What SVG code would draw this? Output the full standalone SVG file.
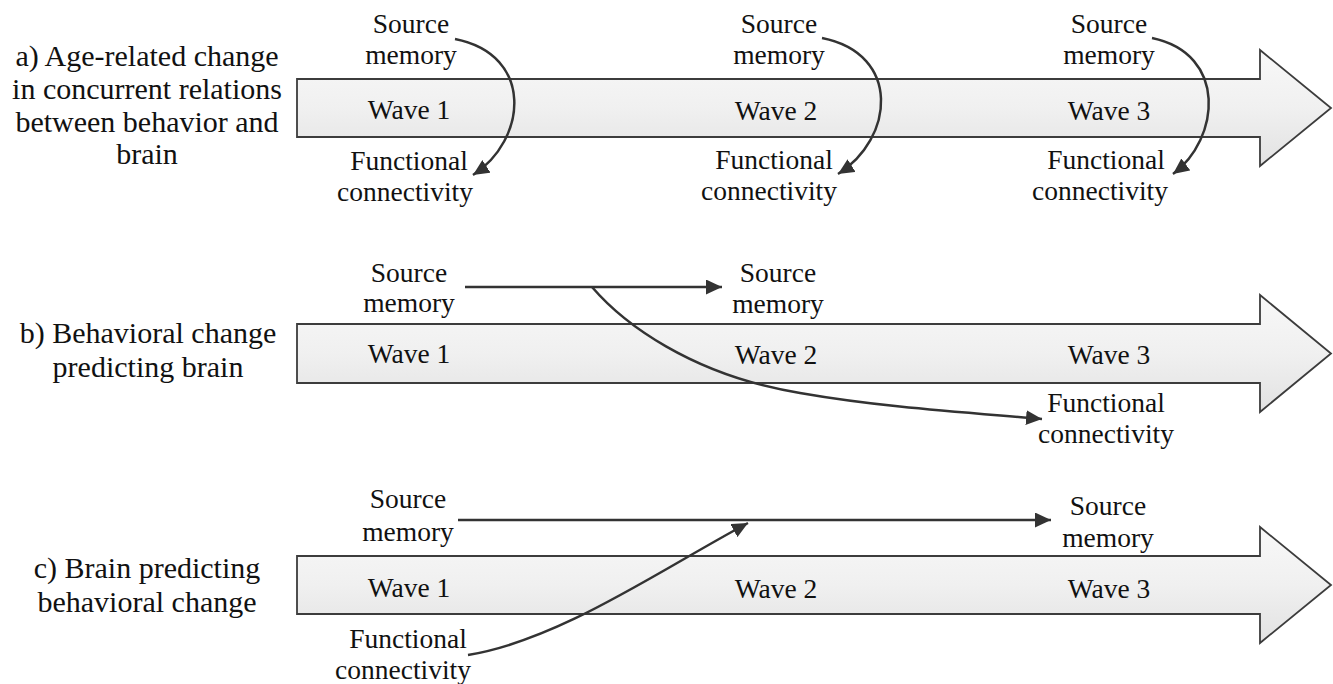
<svg xmlns="http://www.w3.org/2000/svg" width="1333" height="684" viewBox="0 0 1333 684">
<style>
.t{font-family:"Liberation Serif","Times New Roman",serif;font-size:27.5px;fill:#111;text-anchor:middle}
.lab{font-family:"Liberation Serif","Times New Roman",serif;font-size:30px;fill:#111;text-anchor:middle}
.band{fill:url(#g);stroke:#3c3c3c;stroke-width:1.8}
.c{fill:none;stroke:#333;stroke-width:2.5}
</style>
<defs>
<linearGradient id="g" x1="0" y1="0" x2="0" y2="1">
<stop offset="0" stop-color="#f8f8f8"/>
<stop offset="0.5" stop-color="#f0f0f0"/>
<stop offset="1" stop-color="#e2e2e2"/>
</linearGradient>
<marker id="ah" markerUnits="userSpaceOnUse" markerWidth="18" markerHeight="15" refX="16" refY="7.5" orient="auto">
<path d="M0,0 L16,7.5 L0,15 Z" fill="#333"/>
</marker>
</defs>
<g id="labels">
<text class="lab" x="147" y="66">a) Age-related change</text>
<text class="lab" x="147" y="99">in concurrent relations</text>
<text class="lab" x="147" y="132">between behavior and</text>
<text class="lab" x="147" y="164">brain</text>
<text class="lab" x="148" y="343">b) Behavioral change</text>
<text class="lab" x="148" y="377">predicting brain</text>
<text class="lab" x="147" y="578">c) Brain predicting</text>
<text class="lab" x="147" y="612">behavioral change</text>
</g>
<g id="arrow-a"><path class="band" d="M297,79 H1260 V50 L1331,108 L1260,166 V137 H297 Z"/></g>
<g id="arrow-b"><path class="band" d="M297,324 H1260 V295 L1331,353.5 L1260,412 V383 H297 Z"/></g>
<g id="arrow-c"><path class="band" d="M297,556 H1260 V527 L1331,585 L1260,643 V614 H297 Z"/></g>
<g id="a-wave1"><text class="t" x="409" y="119">Wave 1</text></g>
<g id="a-wave2"><text class="t" x="776" y="120">Wave 2</text></g>
<g id="a-wave3"><text class="t" x="1109" y="120">Wave 3</text></g>
<g id="a-sm1"><text class="t" x="411" y="33">Source</text><text class="t" x="411" y="64">memory</text></g>
<g id="a-sm2"><text class="t" x="779" y="33">Source</text><text class="t" x="779" y="64">memory</text></g>
<g id="a-sm3"><text class="t" x="1109" y="33">Source</text><text class="t" x="1109" y="64">memory</text></g>
<g id="a-fc1"><text class="t" x="409" y="170">Functional</text><text class="t" x="405" y="201">connectivity</text></g>
<g id="a-fc2"><text class="t" x="774" y="169">Functional</text><text class="t" x="769" y="200">connectivity</text></g>
<g id="a-fc3"><text class="t" x="1106" y="169">Functional</text><text class="t" x="1100" y="200">connectivity</text></g>
<g id="b-wave1"><text class="t" x="409" y="363">Wave 1</text></g>
<g id="b-wave2"><text class="t" x="776" y="364">Wave 2</text></g>
<g id="b-wave3"><text class="t" x="1109" y="364">Wave 3</text></g>
<g id="b-sm1"><text class="t" x="409" y="282">Source</text><text class="t" x="409" y="312">memory</text></g>
<g id="b-sm2"><text class="t" x="778" y="282">Source</text><text class="t" x="778" y="313">memory</text></g>
<g id="b-fc"><text class="t" x="1106" y="412">Functional</text><text class="t" x="1106" y="443">connectivity</text></g>
<g id="c-wave1"><text class="t" x="409" y="597">Wave 1</text></g>
<g id="c-wave2"><text class="t" x="776" y="598">Wave 2</text></g>
<g id="c-wave3"><text class="t" x="1109" y="598">Wave 3</text></g>
<g id="c-sm1"><text class="t" x="408" y="508">Source</text><text class="t" x="408" y="541">memory</text></g>
<g id="c-sm2"><text class="t" x="1108" y="515">Source</text><text class="t" x="1108" y="547">memory</text></g>
<g id="c-fc"><text class="t" x="408" y="648">Functional</text><text class="t" x="403" y="679">connectivity</text></g>
<g id="connectors">
<path class="c" marker-end="url(#ah)" d="M455,39 C535,55 527,140 473,175"/>
<path class="c" marker-end="url(#ah)" d="M822,38 C902,54 894,139 838,174"/>
<path class="c" marker-end="url(#ah)" d="M1152,38 C1228,54 1220,139 1173,174"/>
<path class="c" marker-end="url(#ah)" d="M465,287 H722"/>
<path class="c" marker-end="url(#ah)" d="M592,287 C622,322 690,375 800,393 C880,407 960,412 1042,419"/>
<path class="c" marker-end="url(#ah)" d="M458,520 H1051"/>
<path class="c" marker-end="url(#ah)" d="M468,655 C560,640 660,570 748,523"/>
</g>
</svg>
